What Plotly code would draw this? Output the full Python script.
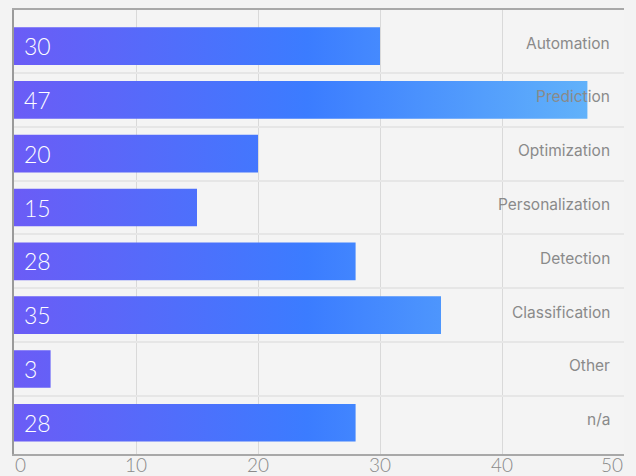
import plotly.graph_objects as go

# Share of projects by use case
categories = ["Automation", "Prediction", "Optimization", "Personalization",
              "Detection", "Classification", "Other", "n/a"]
values = [30, 47, 20, 15, 28, 35, 3, 28]
x_ticks = [0, 10, 20, 30, 40, 50]

BAR_HALF = 0.35
gradient = [[0.0, "#6b5cf6"], [0.5, "#3b7cff"], [1.0, "#63b4fa"]]
X_MAX = 50

fig = go.Figure()

# Each bar is a filled rectangle so it can carry a horizontal gradient
# anchored to the x axis (same colour at the same value across bars).
for i, v in enumerate(values):
    fig.add_trace(go.Scatter(
        x=[0, v, v, 0, 0],
        y=[i - BAR_HALF, i - BAR_HALF, i + BAR_HALF, i + BAR_HALF, i - BAR_HALF],
        mode="lines",
        line=dict(width=0),
        fill="toself",
        fillgradient=dict(type="horizontal", colorscale=gradient, start=0, stop=48),
        hoverinfo="skip",
        showlegend=False,
    ))

# Value labels inside the bars
for i, v in enumerate(values):
    fig.add_annotation(
        x=0, y=i, text=str(v), xanchor="left", yanchor="middle",
        xshift=8, showarrow=False,
        font=dict(family="Lato", size=23, color="white", weight=300),
    )

# Category names at the right edge of the plot
for i, c in enumerate(categories):
    fig.add_annotation(
        x=1, xref="paper", y=i, text=c, xanchor="right", yanchor="middle",
        xshift=-12, yshift=3, showarrow=False,
        font=dict(family="Inter", size=15.5, color="#8a8a8a"),
    )

# X tick labels along the bottom edge; end labels stay inside the figure
for t in x_ticks:
    anchor = "left" if t == 0 else ("right" if t == X_MAX else "center")
    fig.add_annotation(
        x=t, y=0, yref="paper", text=str(t), xanchor=anchor, yanchor="bottom",
        yshift=-23, showarrow=False, borderpad=0,
        font=dict(family="Lato", size=19, color="#8a8a8a", weight=300),
    )

fig.update_layout(
    width=636, height=476,
    margin=dict(l=14, r=12, t=10, b=22, autoexpand=False),
    paper_bgcolor="#f3f3f3",
    plot_bgcolor="#f4f4f4",
    xaxis=dict(
        range=[0, X_MAX], tickvals=x_ticks, showticklabels=False,
        showgrid=True, gridcolor="#d9d9d9", gridwidth=1, zeroline=False,
        showline=True, linecolor="#a8a8a8", linewidth=2, mirror=True,
        ticks="", automargin=False, fixedrange=True,
    ),
    yaxis=dict(
        range=[7.58, -0.67], tickvals=[k + 0.5 for k in range(len(values) - 1)],
        showticklabels=False, showgrid=True, gridcolor="#e6e6e6", gridwidth=2,
        zeroline=False, showline=True, linecolor="#9a9a9a", linewidth=2,
        ticks="", automargin=False, fixedrange=True,
    ),
)

fig.write_html("out.html")
